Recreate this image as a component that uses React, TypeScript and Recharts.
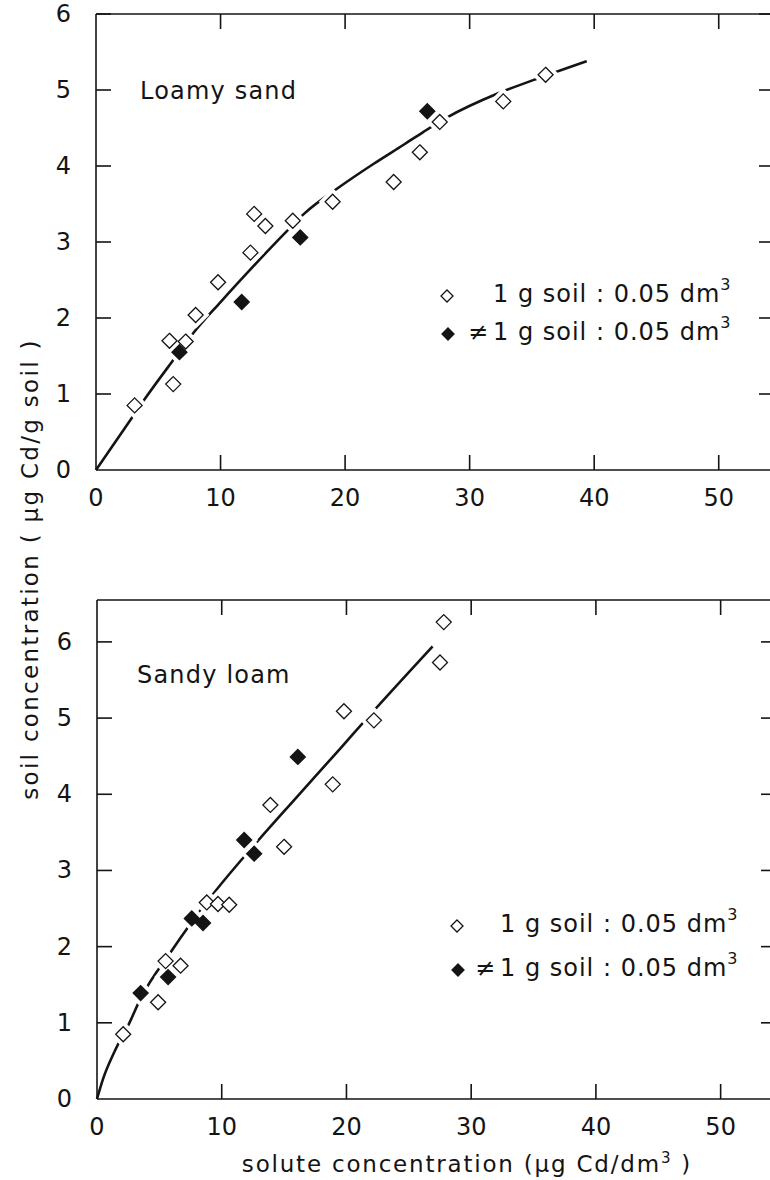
import React from 'react';
import { ComposedChart, Line, Scatter, XAxis, YAxis } from 'recharts';

const FONT = '"DejaVu Sans", sans-serif';
const INK = '#141414';

// ---- axes ----
const xTicks = [0, 10, 20, 30, 40, 50];
const xDomain: [number, number] = [0, 55];
const loamyYTicks = [0, 1, 2, 3, 4, 5, 6];
const loamyYDomain: [number, number] = [0, 6];
const sandyYTicks = [0, 1, 2, 3, 4, 5, 6];
const sandyYDomain: [number, number] = [0, 6.55];

// ---- Loamy sand ----
const loamyOpenX = [3.1, 6.2, 5.9, 7.2, 8.0, 9.8, 12.4, 12.7, 13.6, 15.8, 19.0, 23.9, 26.0, 27.6, 32.7, 36.1];
const loamyOpenY = [0.85, 1.13, 1.7, 1.69, 2.04, 2.47, 2.86, 3.37, 3.21, 3.28, 3.53, 3.79, 4.18, 4.58, 4.85, 5.2];
const loamyFilledX = [6.7, 11.7, 16.4, 26.6];
const loamyFilledY = [1.55, 2.21, 3.06, 4.72];
const loamyCurveX = [0, 2.9, 3.9, 6.4, 7.8, 10, 12.4, 15.6, 16.7, 19.6, 22.3, 24.7, 26.3, 28.2, 32.2, 35.1, 39.4];
const loamyCurveY = [0, 0.69, 0.93, 1.49, 1.8, 2.21, 2.64, 3.19, 3.37, 3.73, 4.03, 4.28, 4.45, 4.64, 4.95, 5.13, 5.38];

// ---- Sandy loam ----
const sandyOpenX = [2.1, 4.9, 5.5, 6.7, 8.8, 9.7, 10.6, 13.9, 15.0, 18.9, 19.8, 22.2, 27.5, 27.8];
const sandyOpenY = [0.85, 1.27, 1.81, 1.75, 2.58, 2.56, 2.55, 3.86, 3.31, 4.13, 5.09, 4.97, 5.73, 6.26];
const sandyFilledX = [3.5, 5.7, 7.6, 8.5, 11.8, 12.6, 16.1];
const sandyFilledY = [1.39, 1.6, 2.37, 2.31, 3.4, 3.22, 4.49];
const sandyCurveX = [0, 0.5, 1.4, 2.6, 3.5, 6, 7.5, 9.5, 12.8, 16, 19.5, 22.1, 26.9];
const sandyCurveY = [0, 0.27, 0.62, 1.0, 1.32, 1.95, 2.3, 2.73, 3.37, 3.96, 4.6, 5.08, 5.94];

const zip = (xs: number[], ys: number[]) => xs.map((x, i) => ({ x, y: ys[i] }));

const loamyOpen = zip(loamyOpenX, loamyOpenY);
const loamyFilled = zip(loamyFilledX, loamyFilledY);
const loamyCurve = zip(loamyCurveX, loamyCurveY);
const loamyAll = [...loamyOpen, ...loamyFilled];
const sandyOpen = zip(sandyOpenX, sandyOpenY);
const sandyFilled = zip(sandyFilledX, sandyFilledY);
const sandyCurve = zip(sandyCurveX, sandyCurveY);
const sandyAll = [...sandyOpen, ...sandyFilled];

const diamondPath = (cx: number, cy: number, r: number) =>
  `M${cx},${cy - r}L${cx + r},${cy}L${cx},${cy + r}L${cx - r},${cy}Z`;

const OpenDiamond = (p: any) => (
  <path d={diamondPath(p.cx, p.cy, 7.5)} fill="#fff" stroke={INK} strokeWidth={1.3} />
);
const FilledDiamond = (p: any) => (
  <path d={diamondPath(p.cx, p.cy, 7.5)} fill={INK} stroke={INK} strokeWidth={1.3} />
);
const Halo = (p: any) => (
  <path d={diamondPath(p.cx, p.cy, 7.5)} fill="#fff" stroke="#fff" strokeWidth={9} />
);

const AX = { stroke: INK, strokeWidth: 1.6 };
const CHART_W = 800;
const TOP_AXIS_H = 14;

const LeftLabel = (p: any) => (
  <text x={p.x - 25} y={p.y} textAnchor="end" dominantBaseline="central" fontSize={24} fontFamily={FONT} fill={INK}>
    {p.payload.value}
  </text>
);
const BottomLabel = (p: any) => (
  <text x={p.x} y={p.y + 28} textAnchor="middle" dominantBaseline="central" fontSize={24} fontFamily={FONT} fill={INK}>
    {p.payload.value}
  </text>
);

type PanelCfg = {
  top: number;
  height: number;
  leftWidth: number;
  rightWidth: number;
  bottomHeight: number;
  yDomain: [number, number];
  yTicks: number[];
};

const loamyCfg: PanelCfg = { top: 0, height: 530, leftWidth: 96, rightWidth: 19, bottomHeight: 60, yDomain: loamyYDomain, yTicks: loamyYTicks };
const sandyCfg: PanelCfg = { top: 586, height: 594, leftWidth: 97, rightWidth: 17, bottomHeight: 81, yDomain: sandyYDomain, yTicks: sandyYTicks };

type PanelProps = PanelCfg & {
  curve: { x: number; y: number }[];
  open: { x: number; y: number }[];
  filled: { x: number; y: number }[];
  all: { x: number; y: number }[];
};

const Panel = (props: PanelProps) => (
  <div style={{ position: 'absolute', left: 0, top: props.top, width: CHART_W, height: props.height }}>
    <ComposedChart width={CHART_W} height={props.height} margin={{ top: 0, right: 0, bottom: 0, left: 0 }}>
      <XAxis
        xAxisId="b"
        type="number"
        dataKey="x"
        domain={xDomain}
        ticks={xTicks}
        height={props.bottomHeight}
        tickSize={0}
        tickMargin={0}
        tickLine={false}
        tick={BottomLabel}
        axisLine={AX}
      />
      <XAxis
        xAxisId="t"
        orientation="top"
        type="number"
        dataKey="x"
        domain={xDomain}
        height={TOP_AXIS_H}
        tick={false}
        tickLine={false}
        axisLine={AX}
      />
      <YAxis
        yAxisId="l"
        type="number"
        dataKey="y"
        domain={props.yDomain}
        ticks={props.yTicks}
        width={props.leftWidth}
        tickSize={0}
        tickMargin={0}
        tickLine={false}
        tick={LeftLabel}
        axisLine={AX}
      />
      <YAxis
        yAxisId="r"
        orientation="right"
        type="number"
        dataKey="y"
        domain={props.yDomain}
        width={props.rightWidth}
        tick={false}
        tickLine={false}
        axisLine={AX}
      />
      <Line
        xAxisId="b"
        yAxisId="l"
        data={props.curve}
        dataKey="y"
        type="monotone"
        stroke={INK}
        strokeWidth={2.6}
        dot={false}
        activeDot={false}
        isAnimationActive={false}
      />
      <Scatter xAxisId="t" yAxisId="r" data={props.all} shape={Halo} isAnimationActive={false} />
      <Scatter xAxisId="b" yAxisId="l" data={props.open} shape={OpenDiamond} isAnimationActive={false} />
      <Scatter xAxisId="b" yAxisId="l" data={props.filled} shape={FilledDiamond} isAnimationActive={false} />
    </ComposedChart>
  </div>
);

// Inward frame tick marks (decoration only), placed from each panel's plot geometry.
const FrameTicks = ({ cfg }: { cfg: PanelCfg }) => {
  const left = cfg.leftWidth;
  const right = CHART_W - cfg.rightWidth;
  const top = cfg.top + TOP_AXIS_H;
  const bottom = cfg.top + cfg.height - cfg.bottomHeight;
  const [x0, x1] = xDomain;
  const [y0, y1] = cfg.yDomain;
  const sx = (v: number) => left + ((v - x0) / (x1 - x0)) * (right - left);
  const sy = (v: number) => bottom - ((v - y0) / (y1 - y0)) * (bottom - top);
  const st = { stroke: INK, strokeWidth: 1.6 };
  return (
    <g>
      {xTicks.filter((v) => v > x0).map((v) => (
        <g key={`x${v}`}>
          <line x1={sx(v)} y1={bottom} x2={sx(v)} y2={bottom - 15} {...st} />
          <line x1={sx(v)} y1={top} x2={sx(v)} y2={top + 15} {...st} />
        </g>
      ))}
      {cfg.yTicks.filter((v) => v > y0).map((v) => (
        <g key={`y${v}`}>
          <line x1={left} y1={sy(v)} x2={left + 15} y2={sy(v)} {...st} />
          <line x1={right} y1={sy(v)} x2={right - 22} y2={sy(v)} {...st} />
        </g>
      ))}
    </g>
  );
};

const Sup = ({ children }: { children: React.ReactNode }) => (
  <tspan dy={-10} fontSize={16}>{children}</tspan>
);

const LegendRows = ({ ox, oy, gap, textX, neqX }: { ox: number; oy: number; gap: number; textX: number; neqX: number }) => (
  <g fontFamily={FONT} fontSize={24} fill={INK}>
    <path d={diamondPath(ox, oy + 2, 6)} fill="#fff" stroke={INK} strokeWidth={1.3} />
    <text x={textX} y={oy} dominantBaseline="central" letterSpacing={1}>
      1 g soil : 0.05 dm<Sup>3</Sup>
    </text>
    <path d={diamondPath(ox + 1, oy + gap + 2, 6)} fill={INK} stroke={INK} strokeWidth={1.3} />
    <text x={neqX} y={oy + gap} dominantBaseline="central">≠</text>
    <text x={textX} y={oy + gap} dominantBaseline="central" letterSpacing={1}>
      1 g soil : 0.05 dm<Sup>3</Sup>
    </text>
  </g>
);

export default function App() {
  return (
    <div
      style={{
        position: 'absolute',
        left: 0,
        top: 0,
        width: 770,
        height: 1180,
        overflow: 'hidden',
        background: '#fff',
        fontFamily: FONT,
      }}
    >
      <Panel {...loamyCfg} curve={loamyCurve} open={loamyOpen} filled={loamyFilled} all={loamyAll} />
      <Panel {...sandyCfg} curve={sandyCurve} open={sandyOpen} filled={sandyFilled} all={sandyAll} />
      <svg
        width={770}
        height={1180}
        style={{ position: 'absolute', left: 0, top: 0, pointerEvents: 'none' }}
      >
        <FrameTicks cfg={loamyCfg} />
        <FrameTicks cfg={sandyCfg} />
        <g fontFamily={FONT} fill={INK}>
          <text x={140} y={99} fontSize={24} letterSpacing={1.2}>Loamy sand</text>
          <text x={137} y={683} fontSize={24} letterSpacing={1.2}>Sandy loam</text>
          <text
            transform="translate(30,569) rotate(-90)"
            textAnchor="middle"
            dominantBaseline="central"
            fontSize={23}
            letterSpacing={2.3}
          >
            soil concentration ( µg Cd/g soil )
          </text>
          <text x={467} y={1172} textAnchor="middle" fontSize={23} letterSpacing={1.8}>
            solute concentration (µg Cd/dm<tspan dy={-9} fontSize={15}>3</tspan>
            <tspan dy={9}> )</tspan>
          </text>
        </g>
        <LegendRows ox={447} oy={294} gap={38} textX={493} neqX={468} />
        <LegendRows ox={457} oy={924} gap={44} textX={500} neqX={475} />
      </svg>
    </div>
  );
}
